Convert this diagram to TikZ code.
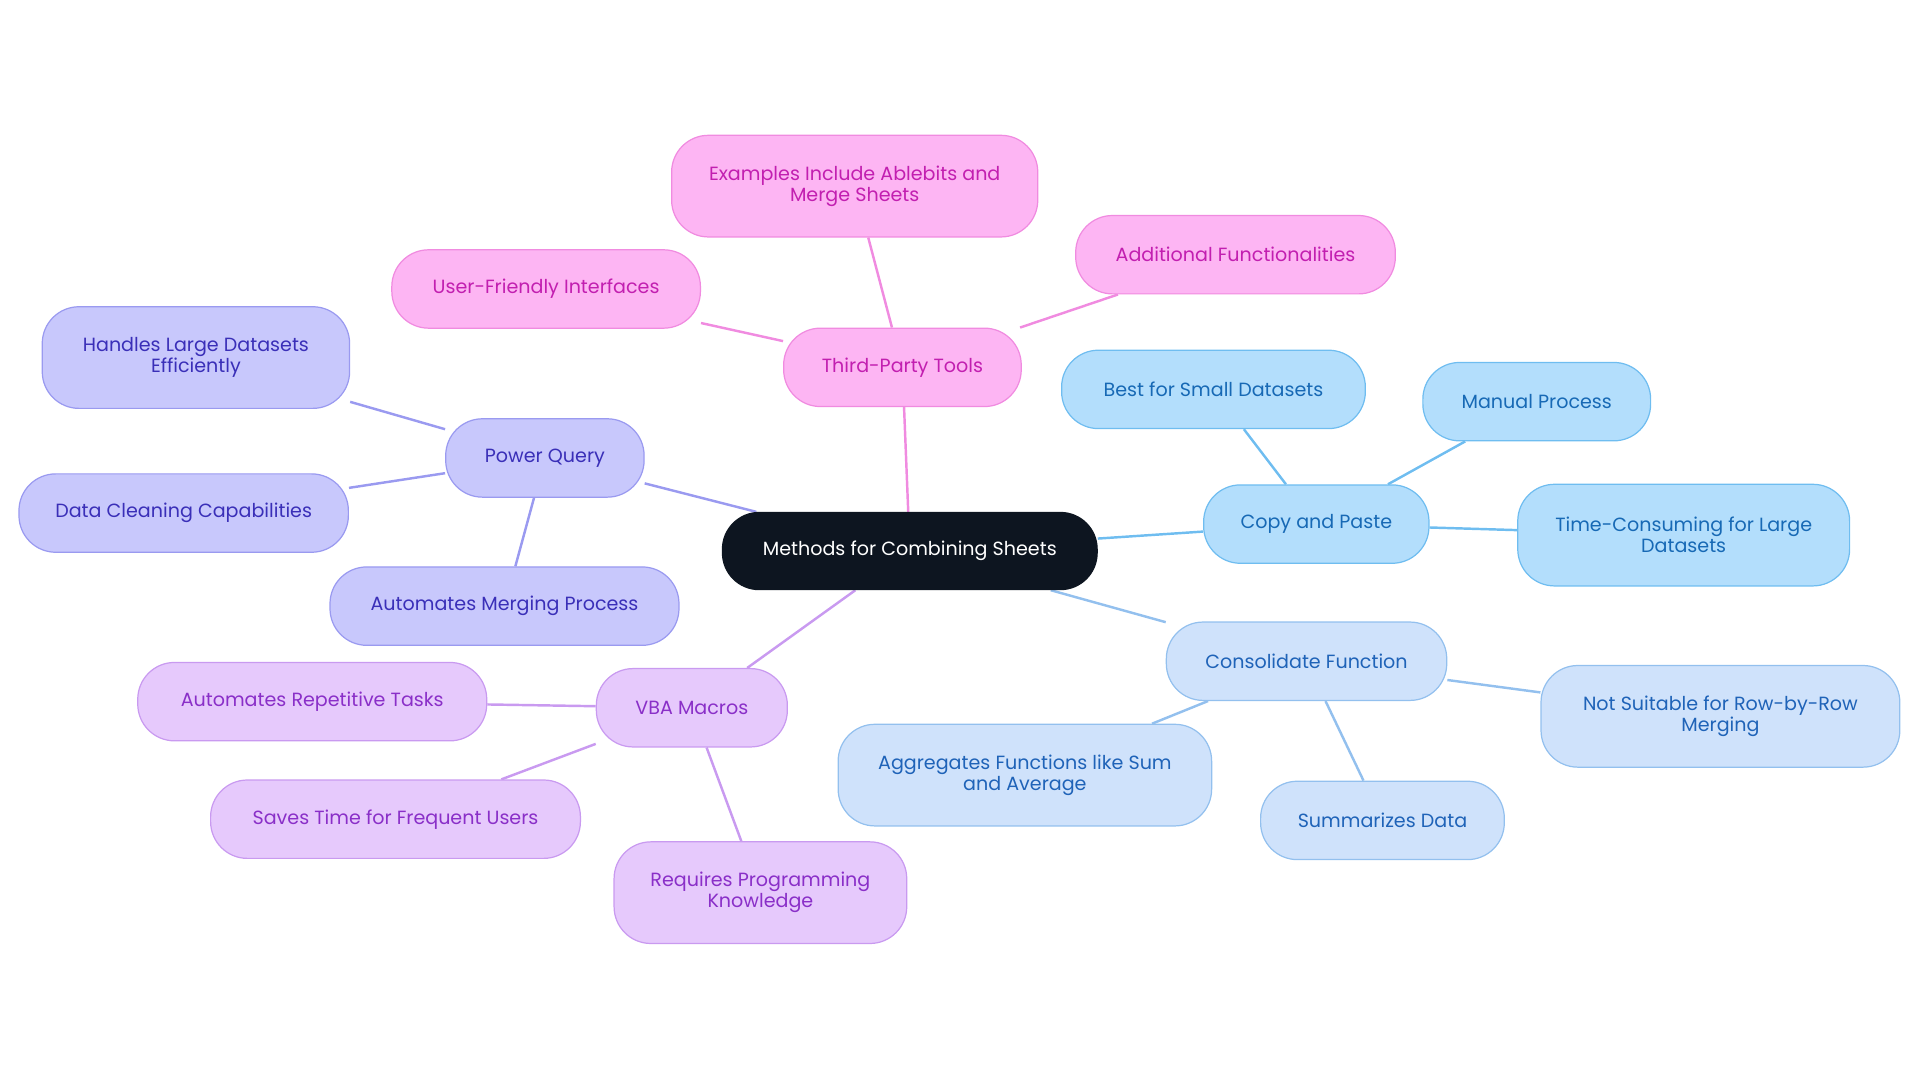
\documentclass[tikz,border=0pt]{standalone}
\usepackage{fontspec}
\setmainfont{Poppins}
\usetikzlibrary{backgrounds}
\definecolor{pkF}{HTML}{FDB5F3}\definecolor{pkD}{HTML}{F08BE0}\definecolor{pkT}{HTML}{C21FB0}
\definecolor{cpF}{HTML}{B3DEFC}\definecolor{cpD}{HTML}{6FBDF0}\definecolor{cpT}{HTML}{1769B5}
\definecolor{csF}{HTML}{CFE2FB}\definecolor{csD}{HTML}{93C0EE}\definecolor{csT}{HTML}{1F63B8}
\definecolor{pqF}{HTML}{C8C8FC}\definecolor{pqD}{HTML}{9A9AF0}\definecolor{pqT}{HTML}{3A2FB8}
\definecolor{vbF}{HTML}{E6C9FC}\definecolor{vbD}{HTML}{C99AF0}\definecolor{vbT}{HTML}{8A2FC8}
\definecolor{ctF}{HTML}{0D1520}
\tikzset{x=0.5pt,y=-0.5pt,
 box/.style={rounded corners=15pt,draw,line width=0.5pt,align=center,font=\fontsize{7.8}{8.6}\selectfont,inner sep=2pt,minimum height=32pt},
 pk/.style={box,fill=pkF,draw=pkD,text=pkT},
 cp/.style={box,fill=cpF,draw=cpD,text=cpT},
 cs/.style={box,fill=csF,draw=csD,text=csT},
 pq/.style={box,fill=pqF,draw=pqD,text=pqT},
 vb/.style={box,fill=vbF,draw=vbD,text=vbT},
 tall/.style={minimum height=41.5pt},
 ln/.style={line width=1pt}}
\begin{document}
\begin{tikzpicture}
\useasboundingbox (0,0) rectangle (1568,884);
\node[box,fill=ctF,draw=ctF,text=white,minimum width=153pt,minimum height=31.5pt] (c) at (743,450) {Methods for Combining Sheets};
\node[pk,minimum width=97pt] (tp) at (737,300) {Third-Party Tools};
\node[pk,minimum width=149.5pt,tall] (ex) at (698,152) {Examples Include Ablebits and\\Merge Sheets};
\node[pk,minimum width=130.5pt] (af) at (1009,208) {Additional Functionalities};
\node[pk,minimum width=126pt] (uf) at (446,236) {User-Friendly Interfaces};
\node[pq,minimum width=81pt] (pq) at (445,374) {Power Query};
\node[pq,minimum width=125.5pt,tall] (hl) at (160,292) {Handles Large Datasets\\Efficiently};
\node[pq,minimum width=134.5pt] (dc) at (150,419) {Data Cleaning Capabilities};
\node[pq,minimum width=142.5pt] (am) at (412,495) {Automates Merging Process};
\node[vb,minimum width=78pt] (vb) at (565,578) {VBA Macros};
\node[vb,minimum width=142.5pt] (ar) at (255,573) {Automates Repetitive Tasks};
\node[vb,minimum width=151pt] (st) at (323,669) {Saves Time for Frequent Users};
\node[vb,minimum width=119.5pt,tall] (rp) at (621,729) {Requires Programming\\Knowledge};
\node[cp,minimum width=92pt] (cp) at (1075,428) {Copy and Paste};
\node[cp,minimum width=124pt] (bs) at (991,318) {Best for Small Datasets};
\node[cp,minimum width=93pt] (mp) at (1255,328) {Manual Process};
\node[cp,minimum width=135.5pt,tall] (tc) at (1375,437) {Time-Consuming for Large\\Datasets};
\node[cs,minimum width=114.5pt] (cf) at (1067,540) {Consolidate Function};
\node[cs,minimum width=146.5pt,tall] (ns) at (1405,585) {Not Suitable for Row-by-Row\\Merging};
\node[cs,minimum width=152.5pt,tall] (ag) at (837,633) {Aggregates Functions like Sum\\and Average};
\node[cs,minimum width=99.5pt] (sd) at (1129,670) {Summarizes Data};
\begin{pgfonlayer}{background}
\draw[ln,pkD] (c)--(tp) (tp)--(ex) (tp)--(af) (tp)--(uf);
\draw[ln,pqD] (c)--(pq) (pq)--(hl) (pq)--(dc) (pq)--(am);
\draw[ln,vbD] (c)--(vb) (vb)--(ar) (vb)--(st) (vb)--(rp);
\draw[ln,cpD] (c)--(cp) (cp)--(bs) (cp)--(mp) (cp)--(tc);
\draw[ln,csD] (c)--(cf) (cf)--(ns) (cf)--(ag) (cf)--(sd);
\end{pgfonlayer}
\end{tikzpicture}
\end{document}
